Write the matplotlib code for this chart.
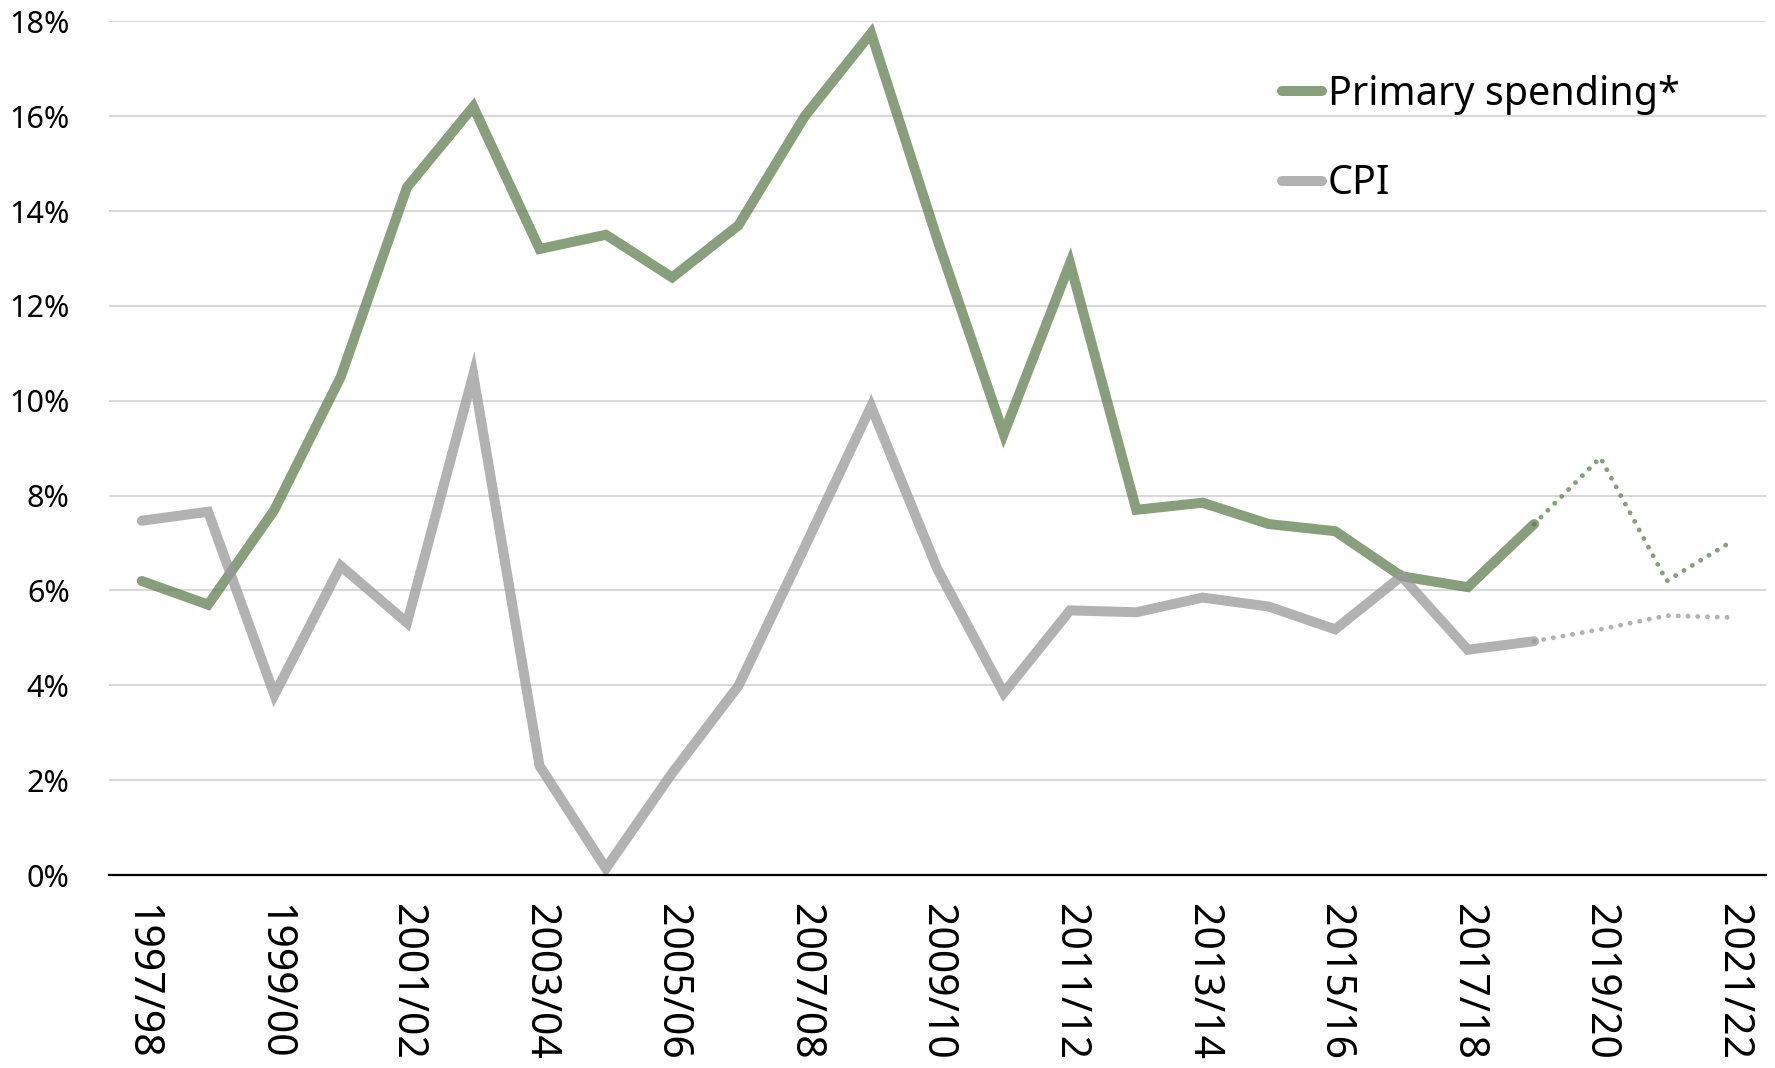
import matplotlib
matplotlib.use("Agg")
import matplotlib.pyplot as plt
import numpy as np

# Fiscal years
years = ["1997/98", "1998/99", "1999/00", "2000/01", "2001/02", "2002/03",
         "2003/04", "2004/05", "2005/06", "2006/07", "2007/08", "2008/09",
         "2009/10", "2010/11", "2011/12", "2012/13", "2013/14", "2014/15",
         "2015/16", "2016/17", "2017/18", "2018/19", "2019/20", "2020/21",
         "2021/22"]

# Annual growth, % (outturn up to 2018/19, projections after)
primary_spending = [6.2, 5.7, 7.7, 10.5, 14.5, 16.2, 13.2, 13.5, 12.6, 13.7,
                    16.0, 17.75, 13.4, 9.3, 12.9, 7.7, 7.85, 7.4, 7.25, 6.3,
                    6.07, 7.4, 8.8, 6.2, 7.05]
cpi = [7.47, 7.66, 3.8, 6.52, 5.32, 10.55, 2.3, 0.14, 2.15, 3.99, 6.92, 9.88,
       6.45, 3.84, 5.58, 5.54, 5.85, 5.66, 5.18, 6.3, 4.75, 4.93, 5.18, 5.47,
       5.43]
last_actual = "2018/19"

green = "#5f7f4f"
grey = "#999999"
alpha = 0.75

fig = plt.figure(figsize=(17.75, 10.68), dpi=100)
ax = fig.add_axes([0.0612, 0.1807, 0.9338, 0.7993])

x = np.arange(len(years))
k = years.index(last_actual)

for vals, col, lab in [(primary_spending, green, "Primary spending*"),
                       (cpi, grey, "CPI")]:
    ax.plot(x[:k + 1], vals[:k + 1], color=col, alpha=alpha, lw=7.2,
            solid_capstyle="round", solid_joinstyle="miter", label=lab, zorder=3)
    ax.plot(x[k:], vals[k:], color=col, alpha=alpha, lw=3.5,
            linestyle=(0, (0.01, 2.0)), dash_capstyle="round", zorder=3)

ax.set_xlim(-0.5, len(years) - 0.5)
ax.set_ylim(0, 18)
ax.set_yticks(np.arange(0, 19, 2))
ax.set_yticklabels([f"{v}%" for v in range(0, 19, 2)],
                   fontsize=22, family="Noto Sans")
ax.set_xticks(x[::2])
ax.set_xticklabels(years[::2], rotation=270, fontsize=29.5, family="Noto Sans",
                   va="top", ha="center")
ax.tick_params(axis="both", length=0)
ax.tick_params(axis="x", pad=21)
ax.tick_params(axis="y", pad=28)
for lab in ax.get_yticklabels():
    lab.set_horizontalalignment("right")

ax.grid(axis="y", color="#d9d9d9", lw=1.5, zorder=0)
ax.set_axisbelow(True)
for s in ["left", "right", "top"]:
    ax.spines[s].set_visible(False)
ax.spines["bottom"].set_color("#000000")
ax.spines["bottom"].set_linewidth(1.6)
ax.spines["bottom"].set_zorder(4)

leg = ax.legend(loc="upper left", bbox_to_anchor=(1282 / 1775, 1 - 75 / 1068),
                bbox_transform=fig.transFigure, frameon=False,
                prop={"family": "Noto Sans", "size": 28.5},
                handlelength=1.0, handletextpad=0.15, labelspacing=1.25,
                borderaxespad=0, borderpad=0)
for h in leg.get_lines():
    h.set_linewidth(7.2)
    h.set_solid_capstyle("round")

fig.savefig("out.png", dpi=100, facecolor="white")
